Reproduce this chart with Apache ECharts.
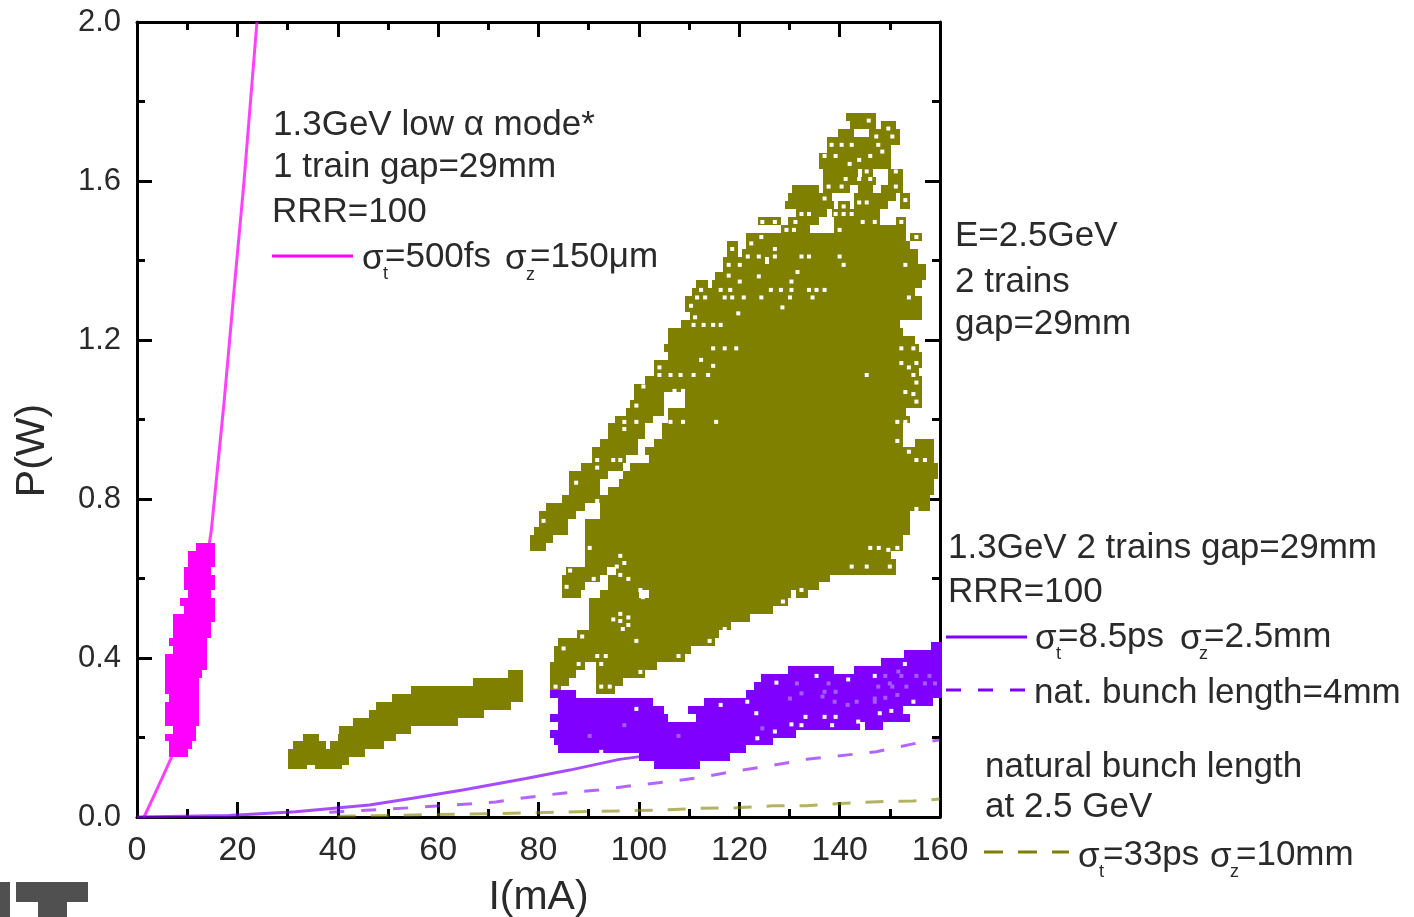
<!DOCTYPE html>
<html><head><meta charset="utf-8">
<style>html,body{margin:0;padding:0;background:#fff}#c{width:1414px;height:917px}</style>
<script src="https://cdn.jsdelivr.net/npm/echarts@6/dist/echarts.min.js"></script>
</head><body><div id="c"></div>
<script>
const xTicks=[0,20,40,60,80,100,120,140,160];
const yTicks=[0,0.4,0.8,1.2,1.6,2.0];
// [P, I from, I to]
const oliveLow=[[0.36,73.9,76.9],[0.34,66.9,76.9],[0.32,54.6,76.9],[0.30,50.9,76.9],[0.28,47.7,74.5],[0.26,46.3,69.2],[0.24,43.1,63.9],[0.22,40.3,54.6],[0.20,33.1,36.3],[0.20,40.1,51.6],[0.18,31.0,37.6],[0.18,38.5,49.3],[0.16,30.1,45.5],[0.14,30.1,42.3],[0.13,30.1,33.8],[0.13,35.5,40.8]];
const oliveHigh=[[1.76,141.2,147.3],[1.74,142.0,147.3],[1.74,148.2,151.2],[1.72,139.7,142.8],[1.72,145.9,152.0],[1.70,137.5,152.0],[1.68,137.5,150.3],[1.66,135.9,150.3],[1.64,135.9,150.3],
[1.62,136.7,143.7],[1.62,144.4,146.7],[1.62,149.7,152.7],[1.60,136.7,147.3],[1.60,149.7,152.7],[1.58,130.5,135.8],[1.58,136.7,142.0],[1.58,143.7,146.7],[1.58,148.3,152.7],
[1.56,129.7,138.4],[1.56,142.8,151.2],[1.56,152.0,154.1],[1.54,129.1,138.8],[1.54,139.7,142.0],[1.54,142.8,149.7],[1.54,152.0,154.1],[1.52,131.4,137.4],[1.52,138.4,148.1],
[1.50,123.7,128.3],[1.50,129.7,135.8],[1.50,138.8,148.1],[1.50,151.2,153.3],[1.48,128.4,134.0],[1.48,138.8,153.3],[1.46,121.4,153.3],[1.46,154.1,156.5],[1.44,117.6,119.8],[1.44,121.4,154.1],
[1.42,117.6,119.8],[1.42,120.6,155.7],[1.40,116.8,125.1],[1.40,125.9,155.7],[1.38,116.8,157.3],[1.36,115.1,157.3],[1.34,111.4,113.8],[1.34,114.6,156.5],[1.32,110.6,155.0],[1.30,109.1,156.5],[1.28,109.1,156.5],[1.26,110.1,156.5],
[1.24,108.3,152.0],[1.22,105.9,152.7],[1.20,105.9,155.0],[1.18,105.1,155.8],[1.16,105.9,156.5],[1.14,103.0,156.5],[1.12,103.0,155.8],[1.10,101.3,156.5],[1.08,99.1,156.5],
[1.06,99.1,105.1],[1.06,109.1,156.5],[1.04,98.3,105.1],[1.04,109.1,156.5],[1.02,97.5,105.1],[1.02,105.9,153.3],[1.00,95.3,102.8],[1.00,105.9,154.1],[0.98,93.8,101.3],[0.98,104.6,152.7],[0.96,93.8,101.3],[0.96,104.6,152.7],
[0.94,92.2,99.9],[0.94,103.0,152.7],[0.94,155.0,158.8],[0.92,90.6,99.9],[0.92,101.3,158.8],[0.90,90.6,97.5],[0.90,102.1,158.8],[0.88,88.4,96.8],[0.88,98.3,159.6],[0.86,86.0,93.8],[0.86,96.8,159.6],
[0.84,86.0,92.2],[0.84,96.1,158.8],[0.82,86.0,92.2],[0.82,93.8,158.8],[0.80,84.6,158.1],[0.78,81.4,89.2],[0.78,92.2,158.1],[0.76,80.0,87.5],[0.76,92.2,154.1],[0.74,80.0,85.8],[0.74,89.2,154.1],[0.72,79.2,85.8],[0.72,89.2,154.1],
[0.70,78.4,82.8],[0.70,89.2,152.7],[0.68,78.4,81.4],[0.68,89.2,152.7],[0.66,89.2,150.3],[0.64,89.2,151.2],[0.62,85.4,93.6],[0.62,95.5,151.2],[0.60,84.6,92.2],[0.60,93.8,138.0],[0.58,84.6,89.2],[0.58,93.8,135.8],
[0.56,84.6,88.4],[0.56,92.2,100.0],[0.56,102.1,130.4],[0.56,131.4,133.7],[0.54,90.0,129.7],[0.52,90.0,126.7],[0.50,90.0,122.1],[0.48,90.0,118.4],[0.46,87.6,115.9],[0.44,83.8,115.1],[0.42,83.0,110.4],[0.40,83.0,109.1],
[0.38,82.2,89.2],[0.38,91.4,103.7],[0.36,82.2,87.5],[0.36,91.4,101.3],[0.34,82.2,86.0],[0.34,91.4,96.8],[0.32,82.2,84.5],[0.32,91.4,95.3]];
const magentaBand=[[0.68,11.7,15.6],[0.66,10.2,15.6],[0.64,10.2,15.6],[0.62,9.4,14.7],[0.60,9.4,15.6],[0.58,9.4,15.6],[0.56,10.2,14.7],[0.54,8.6,15.6],[0.52,9.4,15.6],[0.50,7.2,15.6],[0.48,7.2,14.7],[0.46,7.2,14.7],[0.44,6.4,13.9],[0.42,7.2,13.9],[0.40,5.6,13.9],[0.38,5.6,13.9],[0.36,5.6,13.0],[0.34,5.6,12.4],[0.32,5.6,12.4],[0.30,6.4,12.4],[0.28,5.6,12.4],[0.26,5.6,12.4],[0.24,5.6,12.4],[0.22,7.2,11.7],[0.20,5.6,11.7],[0.18,6.4,11.0],[0.16,6.4,10.2]];
const purpleBand=[[0.43,158.2,160.3],[0.41,152.8,160.3],[0.39,148.3,160.3],[0.37,129.7,138.8],[0.37,142.8,160.3],[0.35,124.4,160.3],[0.33,122.9,160.3],[0.31,82.2,87.5],[0.31,121.4,160.3],[0.29,83.8,102.8],[0.29,112.9,158.6],[0.27,83.8,105.1],[0.27,109.8,152.7],[0.25,82.2,105.8],[0.25,111.4,154.0],[0.23,83.8,144.0],[0.23,145.0,148.7],[0.21,82.2,131.4],[0.19,83.0,126.7],[0.17,83.8,121.4],[0.15,100.0,118.1],[0.13,103.0,112.1]];
const oliveGaps=[[145.8,1.752],[149.7,1.732],[147.3,1.712],[150.5,1.712],[138.4,1.691],[140.4,1.691],[142.4,1.691],[147.7,1.691],[148.5,1.674],[137,1.663],[139.2,1.663],[146.1,1.663],[143.9,1.653],[142,1.643],[145.4,1.624],[151.2,1.624],[141.2,1.605],[143.9,1.605],[146.1,1.605],[137.8,1.586],[140.4,1.586],[151.2,1.586],[137,1.556],[153.1,1.552],[143.9,1.546],[145.4,1.546],[140.8,1.536],[132.4,1.517],[133.9,1.517],[139.2,1.517],[140.8,1.517],[142.4,1.517],[124.6,1.497],[127.1,1.497],[131.2,1.497],[144.6,1.497],[147,1.497],[152.3,1.497],[129.4,1.477],[130.9,1.477],[140,1.477],[124.4,1.459],[155.3,1.459],[122.4,1.443],[118.6,1.429],[127.1,1.429],[121.7,1.41],[123.9,1.41],[127.1,1.41],[132.4,1.41],[133.9,1.41],[140,1.41],[117.9,1.389],[120.1,1.389],[140.8,1.389],[153.1,1.389],[131.6,1.371],[117.9,1.362],[123.9,1.36],[120.1,1.347],[130.4,1.347],[112.4,1.326],[116.3,1.326],[118.2,1.326],[126.3,1.326],[128.3,1.326],[130.4,1.326],[133.9,1.326],[135.4,1.326],[137,1.326],[111.6,1.307],[113.2,1.307],[117.1,1.307],[118.6,1.307],[120.9,1.307],[124.4,1.307],[130.1,1.307],[134.6,1.307],[153.8,1.307],[110.4,1.286],[128.6,1.282],[119.8,1.267],[111.2,1.257],[110.9,1.238],[112.9,1.238],[114.8,1.238],[116.3,1.238],[114.8,1.179],[117.1,1.179],[119.4,1.179],[152.3,1.179],[154.7,1.179],[112.4,1.15],[104.1,1.131],[114.8,1.135],[152.3,1.142],[153.8,1.131],[155.3,1.142],[104.1,1.112],[106.3,1.112],[108.3,1.112],[110.9,1.112],[113.8,1.112],[145.4,1.112],[154.7,1.112],[100.9,1.083],[155.3,1.093],[107.1,1.072],[108.8,1.072],[153.1,1.069],[154.7,1.064],[155.3,1.045],[99.5,1.035],
[97.1,.994],[99.5,.994],[106.3,.994],[108.8,.994],[115.4,.994],[151.5,.994],[153.1,.994],[97.1,.976],[151.5,.946],[153.8,.919],[91.7,.898],[94.9,.898],[96.3,.898],[155.3,.898],[157,.898],[91.7,.879],[87.5,.841],[91.7,.795],[155.3,.775],[81,.745],[90.2,.677],[146.1,.677],[147.8,.677],[149.7,.672],[151.5,.677],[96.3,.657],[97.1,.639],[95.6,.63],[86.3,.62],[96.3,.609],[91,.599],[97.9,.599],[85.6,.579],[100.3,.571],[132.4,.571],[100.8,.553],[128.7,.542],[96.3,.511],[97.9,.502],[94.9,.497],[96.3,.493],[97.9,.483],[96.8,.473],[117.1,.473],[88.7,.454],[99.5,.443],[114.1,.443],[85,.424],[91.7,.405],[93.4,.405],[107.9,.405],[88,.385],[92.5,.385],[100.3,.365],[83.4,.328],[92.5,.328],[94.2,.328],[142.4,.63],[145.4,.63],[150,.63]];
const purpleGaps=[[99.5,.272],[116.3,.282],[106.3,.252],[109.8,.252],[127.4,.338],[135.4,.355],[147,.355],[141.7,.346],[153,.385],[121.6,.29],[123.4,.261],[133.2,.252],[137,.252],[139.2,.252],[148,.261],[150.3,.267],[130.4,.233],[132.4,.231],[138.5,.231],[143.7,.24],[127.1,.215],[123.6,.198],[92.5,.164],[154.7,.29]];
const purpleSpeckle=[[151.7,.366],[152.3,.355],[155.3,.355],[157.9,.355],[149.1,.355],[150,.336],[150.5,.328],[153.3,.328],[147.7,.328],[137,.315],[139.2,.315],[132.4,.311],[136.6,.303],[130.1,.298],[147,.298],[149.1,.3],[151.5,.307],[139,.29],[143.4,.29],[147,.29],[141.6,.282],[97.1,.231],[90.2,.204],[107.9,.204],[124.6,.223],[131.5,.336],[137.8,.336],[157,.336],[159,.336]];
const magentaLine=[[1.4,0],[3,0.043],[5,0.098],[6.8,0.148],[8.5,0.24],[10.5,0.38],[12.5,0.53],[14.8,0.72],[17.4,1.05],[19.2,1.306],[21.3,1.595],[23.9,2.0]];
const purpleSolid=[[0,0],[18.3,0.004],[31.6,0.013],[46.3,0.03],[54.9,0.047],[64.9,0.068],[77.5,0.097],[86.2,0.118],[96.1,0.145],[102,0.155]];
const purpleDash=[[38.3,0.012],[50.3,0.02],[62.9,0.03],[71.5,0.038],[76.2,0.047],[84.8,0.06],[92,0.068],[98.8,0.079],[106,0.089],[112.4,0.1],[119.4,0.116],[125.4,0.127],[133.4,0.145],[147.3,0.164],[154.6,0.184],[160,0.194]];
const oliveDash=[[40,0.002],[60,0.006],[77,0.01],[91,0.014],[105.8,0.018],[112.4,0.022],[119.4,0.023],[126.7,0.028],[133.4,0.028],[140,0.034],[147.7,0.0385],[154.6,0.04],[160,0.045]];
const labels=[
 ['1.3GeV low α mode*',273,125],['1 train gap=29mm',273,167],['RRR=100',272,212],
 ['E=2.5GeV',955,236],['2 trains',955,282],['gap=29mm',955,324],
 ['1.3GeV 2 trains gap=29mm',948,548],['RRR=100',948,592],
 ['nat. bunch length=4mm',1034,693],['natural bunch length',985,767],['at 2.5 GeV',985,807],
 ['σ',362,259],['=500fs',385,257],['σ',505,259],['=150μm',530,257],
 ['σ',1035,639],['=8.5ps',1058,637],['σ',1180,639],['=2.5mm',1204,637],
 ['σ',1078,857],['=33ps',1103,855],['σ',1210,857],['=10mm',1236,855]];
const subs=[['t',383,274],['z',526,275],['t',1056,654],['z',1199,654],['t',1099,872],['z',1230,872]];
const keys=[[272,353,256,'#ff00ff',null],[946,1027,637,'#8000ff',null],[946,1027,690,'#8000ff',[15,17]],[984,1069,852,'#808000',[19,15]]];

const FONT='"Liberation Sans",Arial,sans-serif', TXT='#2a2a2a', rowH=0.02;
const chart=echarts.init(document.getElementById('c'),null,{renderer:'canvas'});
function band(params,api){
  const a=api.coord([api.value(1),api.value(0)+rowH/2]), b=api.coord([api.value(2),api.value(0)-rowH/2]);
  const x=Math.round(a[0]),y=Math.round(a[1]);
  return {type:'rect',shape:{x,y,width:Math.round(b[0])-x,height:Math.round(b[1])-y},style:{fill:api.visual('color')}};
}
const spanSeries=(name,data,color,z)=>({name,type:'custom',data,renderItem:band,clip:false,z,silent:true,itemStyle:{color},encode:{x:[1,2],y:0},dimensions:['P','from','to']});
const dotSeries=(name,data,color)=>({name,type:'scatter',data,symbol:'rect',symbolSize:4,itemStyle:{color,opacity:1},z:6,silent:true,clip:false});
const lineSeries=(name,data,color,type,width,opacity,z)=>({name,type:'line',data,symbol:'none',smooth:false,clip:false,z,silent:true,lineStyle:{color,width,type,opacity}});
const axisBase={min:0,axisLine:{show:true,onZero:false,lineStyle:{color:'#000',width:3}},splitLine:{show:false},
  axisTick:{show:true,inside:true,length:15,lineStyle:{color:'#000',width:3}},
  minorTick:{show:true,splitNumber:2,length:8,lineStyle:{color:'#000',width:3}},minorSplitLine:{show:false}};
const lab={color:TXT,fontFamily:FONT,fontSize:34};
chart.setOption({
  animation:false,
  backgroundColor:'#fff',
  grid:{left:137,right:474,top:22,bottom:100,containLabel:false,outerBoundsMode:'none'},
  xAxis:[
    {...axisBase,type:'value',position:'bottom',max:160,interval:20,
      axisLabel:{...lab,margin:17,showMinLabel:true,showMaxLabel:true,hideOverlap:false},
      name:'I(mA)',nameLocation:'middle',nameGap:60,nameTextStyle:{...lab,fontSize:41}},
    {...axisBase,type:'value',position:'top',max:160,interval:20,axisLabel:{show:false}}],
  yAxis:[
    {...axisBase,type:'value',position:'left',max:2,interval:0.4,
      axisLabel:{...lab,fontSize:31,margin:16,padding:[4,0,0,0],formatter:v=>v.toFixed(1)},
      name:'P(W)',nameLocation:'middle',nameGap:84,nameTextStyle:{...lab,fontSize:41,padding:[0,62,0,0]}},
    {...axisBase,type:'value',position:'right',max:2,interval:0.4,axisLabel:{show:false}}],
  series:[
    lineSeries('magenta line',magentaLine,'#ff00ff','solid',3,0.75,3),
    lineSeries('purple solid',purpleSolid,'#8000ff','solid',3,0.7,3),
    lineSeries('purple dashed',purpleDash,'#8000ff',[15,17],3,0.6,3),
    lineSeries('olive dashed',oliveDash,'#808000',[18,15],3,0.6,3),
    spanSeries('magenta band',magentaBand,'#ff00ff',4),
    spanSeries('olive low',oliveLow,'#808000',4),
    spanSeries('olive high',oliveHigh,'#808000',4),
    spanSeries('purple band',purpleBand,'#8000ff',5),
    dotSeries('olive gaps',oliveGaps,'#fff'),
    dotSeries('purple gaps',purpleGaps,'#fff'),
    dotSeries('purple speckle',purpleSpeckle,'#a45cff')
  ],
  graphic:{elements:[
    ...labels.map(([text,x,y])=>({type:'text',x,y,silent:true,style:{text,fill:TXT,font:'35px '+FONT,textVerticalAlign:'middle',verticalAlign:'middle'}})),
    ...subs.map(([text,x,y])=>({type:'text',x,y,silent:true,style:{text,fill:TXT,font:'18px '+FONT,textVerticalAlign:'middle',verticalAlign:'middle'}})),
    ...keys.map(([x1,x2,y,stroke,dash])=>({type:'line',silent:true,shape:{x1,y1:y,x2,y2:y},style:{stroke,lineWidth:3,lineDash:dash||null}})),
    {type:'rect',silent:true,shape:{x:0,y:882,width:10,height:35},style:{fill:'#505050'}},
    {type:'rect',silent:true,shape:{x:16,y:882,width:72,height:20},style:{fill:'#505050'}},
    {type:'rect',silent:true,shape:{x:38,y:902,width:29,height:15},style:{fill:'#505050'}}
  ]}
});
</script></body></html>
